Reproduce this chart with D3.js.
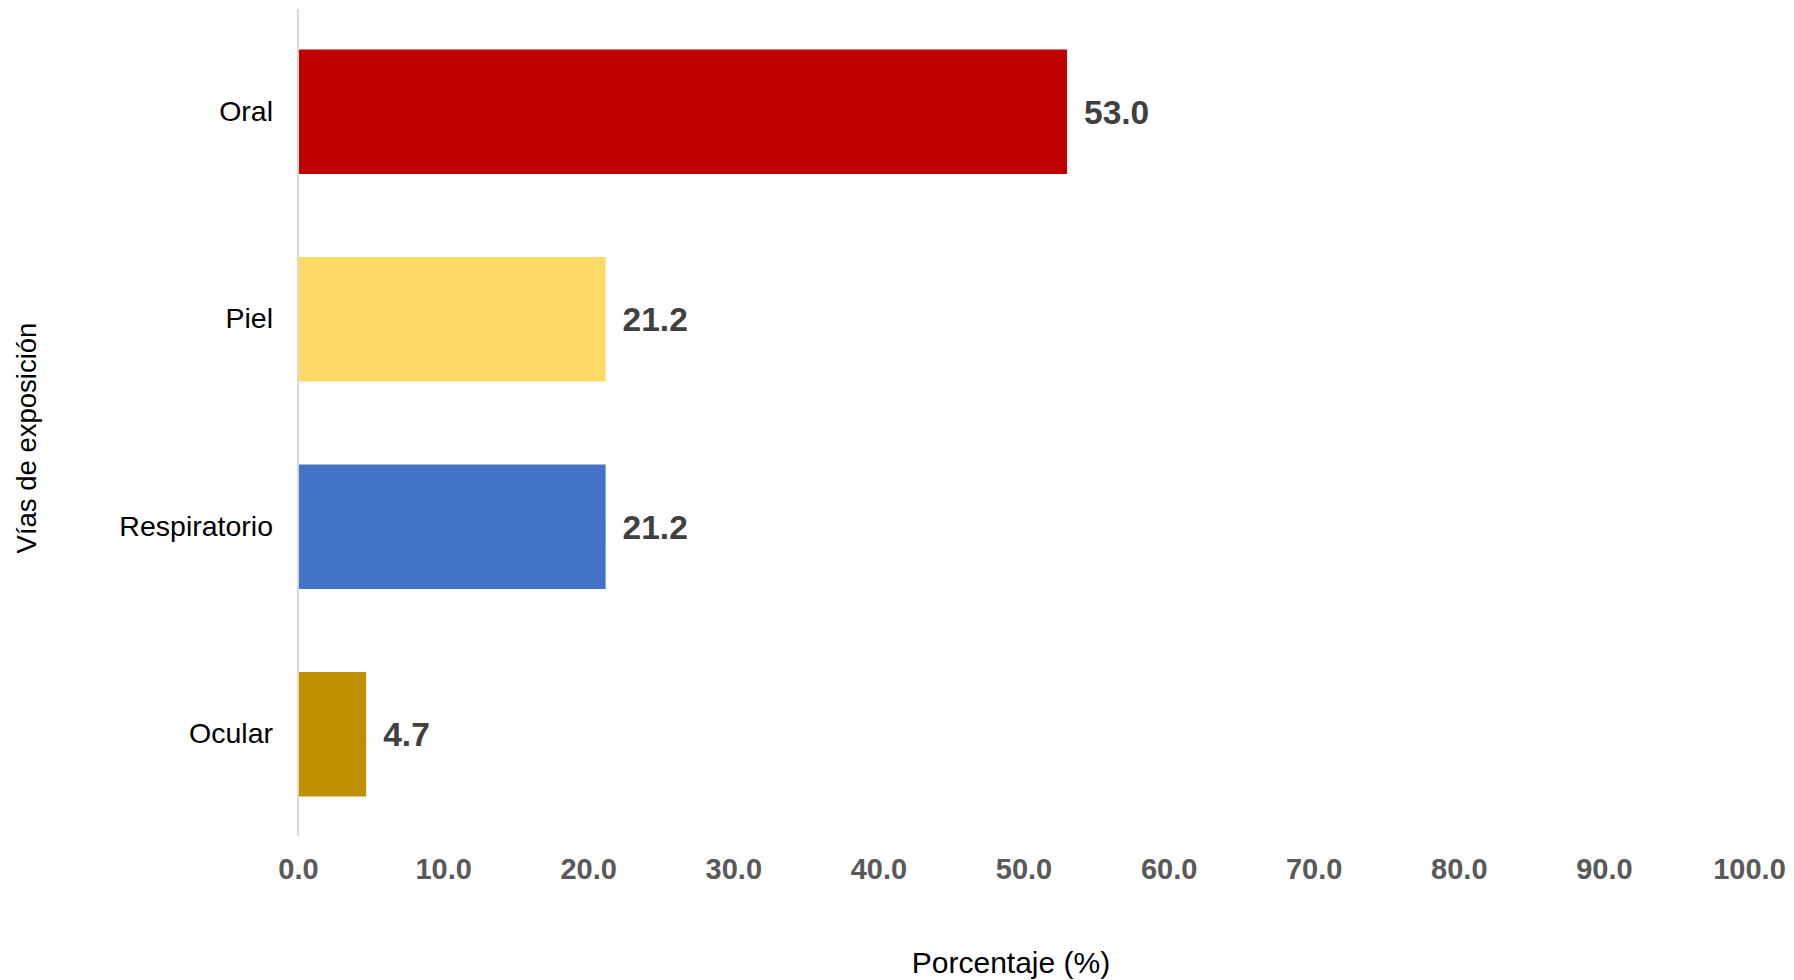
<!DOCTYPE html>
<html>
<head>
<meta charset="utf-8">
<script src="https://cdn.jsdelivr.net/npm/d3@7"></script>
<style>
  html, body { margin: 0; padding: 0; background: #ffffff; }
  svg { display: block; font-family: "Liberation Sans", Arial, sans-serif; }
</style>
</head>
<body>
<svg id="chart" width="1794" height="980"></svg>
<script>
const categories = ["Oral", "Piel", "Respiratorio", "Ocular"];
const values = [53.0, 21.2, 21.2, 4.7];
const barColors = ["#C00000", "#FFD966", "#4472C4", "#BF9000"];
const tickValues = [0, 10, 20, 30, 40, 50, 60, 70, 80, 90, 100];
const xTitle = "Porcentaje (%)";
const yTitle = "Vías de exposición";

(function () {
const svg = d3.select("#chart");
const plotLeft = 298, plotRight = 1749, plotTop = 8, plotBottom = 838;

const x = d3.scaleLinear().domain([0, 100]).range([plotLeft, plotRight]);
const y = d3.scaleBand().domain(categories).range([plotTop, plotBottom]).paddingInner(0.4).paddingOuter(0.2);

// bars
svg.append("g").selectAll("rect").data(categories).join("rect")
  .attr("x", x(0))
  .attr("y", d => y(d))
  .attr("width", (d, i) => x(values[i]) - x(0))
  .attr("height", y.bandwidth())
  .attr("fill", (d, i) => barColors[i]);

// vertical axis line
svg.append("line")
  .attr("x1", x(0)).attr("x2", x(0))
  .attr("y1", 9).attr("y2", 836)
  .attr("stroke", "#D9D9D9").attr("stroke-width", 2);

// category labels (y axis)
const yAxis = d3.axisLeft(y).tickSize(0).tickPadding(25);
const yg = svg.append("g").attr("transform", `translate(${x(0)},0)`).call(yAxis);
yg.select(".domain").remove();
yg.selectAll("text")
  .attr("font-family", "Liberation Sans, Arial, sans-serif")
  .attr("font-size", 28.5)
  .attr("fill", "#000000")
  .attr("dy", "0.32em");

// x axis tick labels
const xAxis = d3.axisBottom(x).tickValues(tickValues).tickFormat(d3.format(".1f")).tickSize(0).tickPadding(0);
const xg = svg.append("g").attr("transform", `translate(0,879)`).call(xAxis);
xg.select(".domain").remove();
xg.selectAll("text")
  .attr("font-family", "Liberation Sans, Arial, sans-serif")
  .attr("font-size", 29)
  .attr("font-weight", "bold")
  .attr("fill", "#595959")
  .attr("dy", 0)
  .attr("y", 0);

// value labels
svg.append("g").selectAll("text").data(categories).join("text")
  .attr("x", (d, i) => x(values[i]) + 17)
  .attr("y", d => y(d) + y.bandwidth() / 2)
  .attr("dy", "0.36em")
  .attr("font-size", 33.5)
  .attr("font-weight", "bold")
  .attr("fill", "#404040")
  .text((d, i) => d3.format(".1f")(values[i]));

// axis titles
svg.append("text")
  .attr("x", 1011).attr("y", 973)
  .attr("text-anchor", "middle")
  .attr("font-size", 30)
  .attr("fill", "#000000")
  .text(xTitle);

svg.append("text")
  .attr("transform", "translate(36,438) rotate(-90)")
  .attr("text-anchor", "middle")
  .attr("font-size", 27.5)
  .attr("fill", "#000000")
  .text(yTitle);
})();
</script>
</body>
</html>
